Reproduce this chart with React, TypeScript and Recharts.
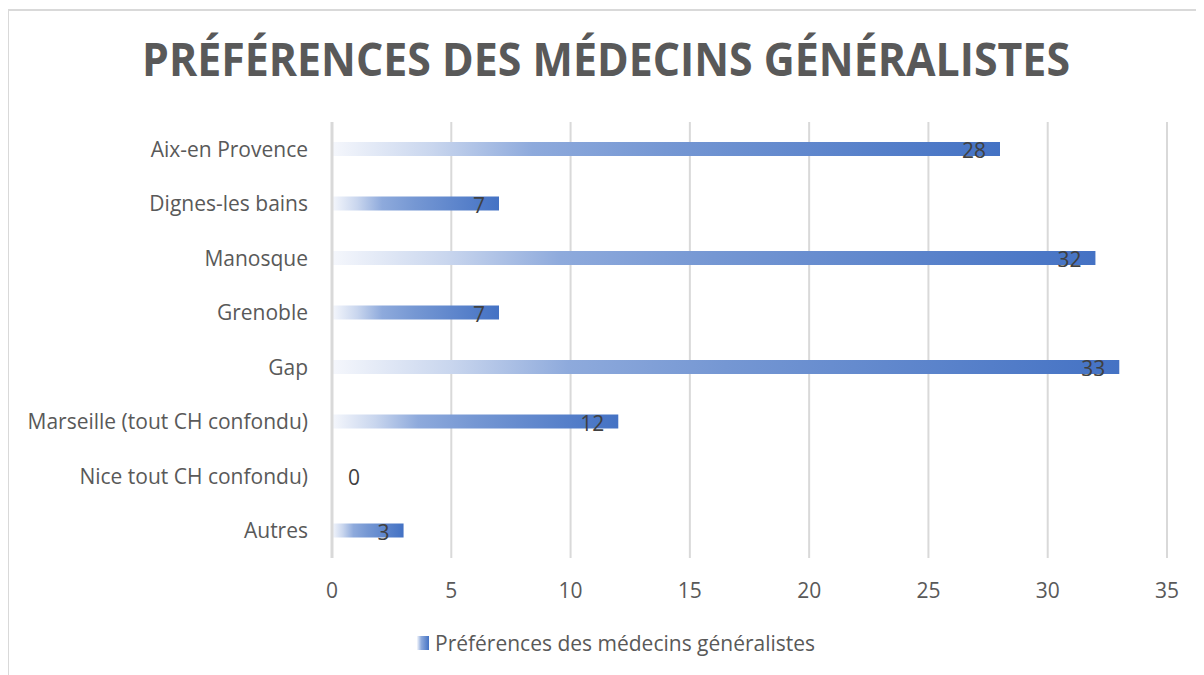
import { BarChart, Bar, XAxis, YAxis, CartesianGrid, LabelList, ReferenceDot } from 'recharts'

// Préférences des médecins généralistes - horizontal bar chart, gradient bars (Excel look)

const categories = [
  'Aix-en Provence',
  'Dignes-les bains',
  'Manosque',
  'Grenoble',
  'Gap',
  'Marseille (tout CH confondu)',
  'Nice tout CH confondu)',
  'Autres',
]
const values = [28, 7, 32, 7, 33, 12, 0, 3]
const xTicks = [0, 5, 10, 15, 20, 25, 30, 35]
const seriesName = 'Préférences des médecins généralistes'
const title = 'PRÉFÉRENCES DES MÉDECINS GÉNÉRALISTES'

const data = categories.map((name, i) => ({ name, value: values[i] }))
const zeroRows = data.filter((d) => d.value === 0)

const FONT = '"Open Sans", sans-serif'
const TEXT = '#595959'
const GRID = '#d9d9d9'
const FS = 21

function BarValueLabel(props: any) {
  const { x, y, width, height, value } = props
  return (
    <text
      x={x + width - 14}
      y={y + height / 2 + 1}
      textAnchor="end"
      dominantBaseline="central"
      fill="#404040"
      fontSize={FS}
      fontFamily={FONT}
    >
      {value}
    </text>
  )
}

function ZeroLabel(props: any) {
  const { viewBox, value } = props
  return (
    <text
      x={viewBox.x + 16}
      y={viewBox.y + viewBox.height / 2 + 1}
      dominantBaseline="central"
      fill="#404040"
      fontSize={FS}
      fontFamily={FONT}
    >
      {value}
    </text>
  )
}

export default function App() {
  return (
    <div style={{ position: 'relative', width: 1196, height: 667, overflow: 'hidden', fontFamily: FONT }}>
      <div
        style={{
          position: 'absolute',
          left: -1,
          top: 1,
          width: 1400,
          height: 900,
          borderTop: `2px solid ${GRID}`,
          borderLeft: `2px solid ${GRID}`,
        }}
      />
      <svg width={1196} height={100} style={{ position: 'absolute', left: 0, top: 0 }}>
        <text
          x={598}
          y={68}
          textAnchor="middle"
          textLength={928}
          lengthAdjust="spacingAndGlyphs"
          fontFamily={FONT}
          fontWeight={700}
          fontSize={46}
          fill={TEXT}
        >
          {title}
        </text>
      </svg>
      <div style={{ position: 'absolute', left: 0, top: 0 }}>
        <BarChart
          width={1196}
          height={667}
          data={data}
          layout="vertical"
          margin={{ top: 114, right: 37, bottom: 77, left: 0 }}
          barCategoryGap={0}
        >
          <defs>
            <linearGradient id="barGrad" x1="0" y1="0" x2="1" y2="0">
              <stop offset="0%" stopColor="#f5f7fc" />
              <stop offset="15%" stopColor="#c9d6ee" />
              <stop offset="30%" stopColor="#8eaadc" />
              <stop offset="50%" stopColor="#7597d3" />
              <stop offset="100%" stopColor="#4472c4" />
            </linearGradient>
          </defs>
          <CartesianGrid horizontal={false} stroke={GRID} strokeWidth={2} />
          <XAxis
            type="number"
            domain={[0, 35]}
            ticks={xTicks}
            axisLine={false}
            tickLine={false}
            tickSize={0}
            tickMargin={25}
            height={40}
            tick={{ fontSize: FS, fill: TEXT, fontFamily: FONT }}
          />
          <YAxis
            type="category"
            dataKey="name"
            width={324}
            axisLine={{ stroke: GRID, strokeWidth: 3 }}
            tickLine={false}
            tickSize={0}
            tickMargin={24}
            tick={{ fontSize: FS, fill: TEXT, fontFamily: FONT }}
          />
          <Bar dataKey="value" name={seriesName} fill="url(#barGrad)" barSize={14} isAnimationActive={false}>
            <LabelList dataKey="value" content={BarValueLabel} />
          </Bar>
          {zeroRows.map((d) => (
            <ReferenceDot
              key={d.name}
              x={d.value}
              y={d.name}
              r={0}
              fill="none"
              stroke="none"
              label={<ZeroLabel value={d.value} />}
            />
          ))}
        </BarChart>
      </div>
      <div
        style={{
          position: 'absolute',
          left: 409,
          top: 621,
          display: 'flex',
          alignItems: 'center',
          color: TEXT,
          fontSize: FS,
          fontFamily: FONT,
          whiteSpace: 'nowrap',
        }}
      >
        <span
          style={{
            display: 'inline-block',
            width: 12,
            height: 14,
            marginRight: 6,
            background: 'linear-gradient(to right, #f5f7fc 0%, #8eaadc 35%, #4472c4 100%)',
          }}
        />
        <span>{seriesName}</span>
      </div>
    </div>
  )
}
